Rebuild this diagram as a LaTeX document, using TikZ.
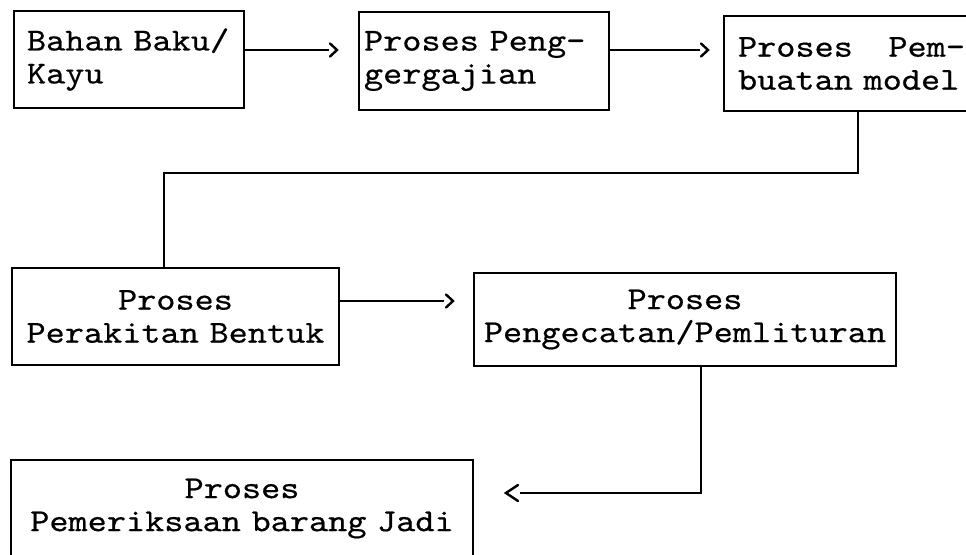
\documentclass[tikz,border=0pt]{standalone}
\usepackage{fontspec}
\usetikzlibrary{calc}
% wide typewriter face for the process labels, with a full-width fixed space
\newfontfamily\flowtt{lmmono10-regular}[Extension=.otf, FakeStretch=1.14, FakeBold=0.5]
\newcommand\flowfont{\flowtt\fontsize{32}{33}\selectfont
  \fontdimen2\font=0.5985em \fontdimen3\font=0pt \fontdimen4\font=0pt }
\tikzset{
  box/.style={draw, rectangle, line width=2pt, inner ysep=0pt, anchor=north west, font=\flowfont},
  leftbox/.style={box, align=left},
  midbox/.style={box, align=center, inner xsep=8pt},
  conn/.style={line width=2pt},
  chev/.style={line width=2.4pt, line cap=round, line join=miter},
  pics/tipR/.style={code={\draw[chev] (-7,-6.5) -- (0,0) -- (-7,6.5);}},
  pics/tipL/.style={code={\draw[chev] (12,-8) -- (0,0) -- (12,8);}},
}
\begin{document}
\begin{tikzpicture}[x=1pt, y=-1pt]
  \useasboundingbox (0,0) rectangle (966,554);
  \fill[white] (0,0) rectangle (966,554);
  \clip (0,0) rectangle (966,554);

  % process boxes
  \node[leftbox, inner xsep=13pt, text width=204pt, minimum height=97pt] (b1) at (13,10)
    {Bahan Baku/\\Kayu};
  \node[leftbox, inner xsep=5pt, text width=240pt, minimum height=98pt] (b2) at (358,11)
    {Proses Peng-\\gergajian};
  \node[leftbox, inner xsep=14pt, text width=227pt, minimum height=95pt] (b3) at (723,15)
    {Proses\hfill Pem-\\buatan model};
  \node[midbox, text width=311pt, minimum height=97pt] (b4) at (11,267)
    {Proses\\Perakitan Bentuk};
  \node[midbox, text width=406pt, minimum height=93pt] (b5) at (473,272)
    {Proses\\Pengecatan/Pemlituran};
  \node[midbox, text width=446pt, minimum height=97pt] (b6) at (10,459)
    {Proses\\Pemeriksaan barang Jadi};

  % b1 -> b2
  \coordinate (s12) at ([yshift=-40pt]b1.north east);
  \coordinate (t12) at ($(s12 -| b2.west)+(-21,0)$);
  \draw[conn] (s12) -- ($(t12)+(-8,0)$);
  \pic at (t12) {tipR};

  % b2 -> b3
  \coordinate (s23) at ([yshift=-39pt]b2.north east);
  \coordinate (t23) at ($(s23 -| b3.west)+(-15,0)$);
  \draw[conn] (s23) -- ($(t23)+(-8,0)$);
  \pic at (t23) {tipR};

  % b3 -> b4
  \coordinate (k1) at ([xshift=135pt]b3.south west);
  \coordinate (k2) at ([xshift=153pt]b4.north west);
  \coordinate (m34) at ([yshift=94pt]k2);
  \draw[conn] (k1) |- (m34) -- (k2);

  % b4 -> b5
  \coordinate (s45) at ([yshift=-34pt]b4.north east);
  \coordinate (t45) at ($(s45 -| b5.west)+(-20,0)$);
  \draw[conn] (s45) -- ($(t45)+(-9,0)$);
  \pic at (t45) {tipR};

  % b5 -> b6
  \coordinate (k3) at ([xshift=228pt]b5.south west);
  \coordinate (t56) at ([shift={(32pt,-34pt)}]b6.north east);
  \draw[conn] (k3) |- ($(t56)+(14,0)$);
  \pic at (t56) {tipL};
\end{tikzpicture}
\end{document}
